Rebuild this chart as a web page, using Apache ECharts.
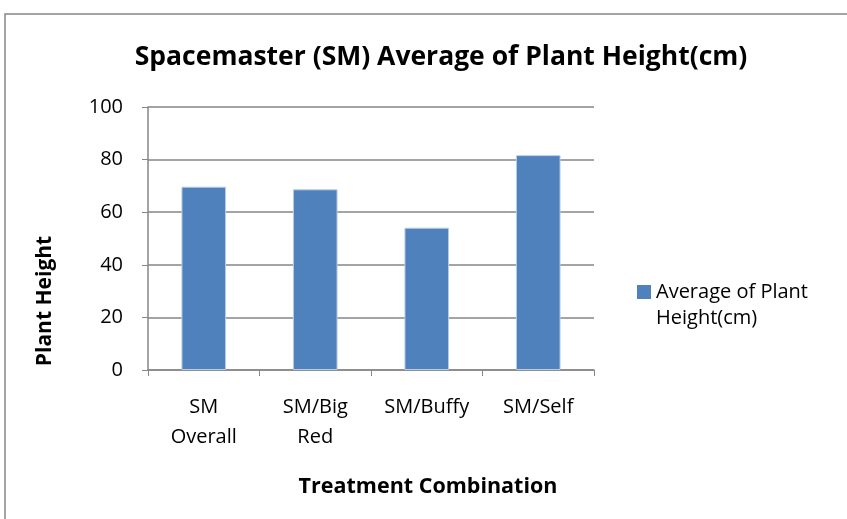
<!DOCTYPE html>
<html>
<head>
<meta charset="utf-8">
<script src="https://cdn.jsdelivr.net/npm/echarts@6/dist/echarts.min.js"></script>
<style>
  html, body { margin: 0; padding: 0; background: #fff; }
  #chart { width: 847px; height: 519px; }
</style>
</head>
<body>
<div id="chart"></div>
<script>
// chart data
var categories = ["SM\nOverall", "SM/Big\nRed", "SM/Buffy", "SM/Self"];
var heights = [69.7, 68.7, 54.1, 81.7];
var yTicks = [0, 20, 40, 60, 80, 100];
var seriesName = "Average of Plant Height(cm)";

var font = "'Open Sans', 'Noto Sans', sans-serif";
var chart = echarts.init(document.getElementById("chart"));

chart.setOption({
  animation: false,
  title: {
    text: "Spacemaster (SM) Average of Plant Height(cm)",
    left: 436,
    top: 39,
    textAlign: "center",
    textStyle: { fontFamily: font, fontSize: 26.5, fontWeight: "bold", color: "#000" }
  },
  legend: {
    data: [seriesName],
    left: 632,
    top: 273,
    icon: "rect",
    itemWidth: 14,
    itemHeight: 14,
    itemStyle: { borderWidth: 0 },
    // second line of the legend label is drawn below as a graphic text,
    // so the marker lines up with the first line like in Excel
    formatter: function () { return "Average of Plant"; },
    textStyle: { fontFamily: font, fontSize: 20, color: "#000", lineHeight: 28 }
  },
  grid: { left: 148, right: 253, top: 107, bottom: 149 },
  xAxis: {
    type: "category",
    data: categories,
    axisLine: { lineStyle: { color: "#868686", width: 1.5 } },
    axisTick: { show: true, length: 6, lineStyle: { color: "#868686" } },
    axisLabel: { fontFamily: font, fontSize: 20, color: "#000", margin: 22, lineHeight: 30 }
  },
  yAxis: {
    type: "value",
    min: yTicks[0],
    max: yTicks[yTicks.length - 1],
    interval: 20,
    axisLine: { show: true, lineStyle: { color: "#868686", width: 1.5 } },
    axisTick: { show: true, length: 6, inside: false, lineStyle: { color: "#868686" } },
    splitLine: { lineStyle: { color: "#868686", width: 1.5 } },
    axisLabel: { fontFamily: font, fontSize: 20, color: "#000", margin: 25 }
  },
  series: [{
    name: seriesName,
    type: "bar",
    data: heights,
    barWidth: "40%",
    itemStyle: { color: "#4f81bd", borderColor: "#b9cde5", borderWidth: 1 }
  }],
  graphic: [
    {
      type: "rect",
      shape: { x: 5, y: 14, width: 860, height: 520 },
      style: { fill: null, stroke: "#868686", lineWidth: 1.5 },
      silent: true
    },
    {
      type: "text",
      x: 656,
      y: 318,
      style: {
        text: "Height(cm)",
        fontFamily: font,
        fontSize: 20,
        fill: "#000",
        textAlign: "left",
        textVerticalAlign: "middle"
      }
    },
    {
      type: "text",
      x: 45,
      y: 301,
      rotation: Math.PI / 2,
      style: {
        text: "Plant Height",
        fontFamily: font,
        fontSize: 21,
        fontWeight: "bold",
        fill: "#000",
        textAlign: "center",
        textVerticalAlign: "middle"
      }
    },
    {
      type: "text",
      x: 428,
      y: 487,
      style: {
        text: "Treatment Combination",
        fontFamily: font,
        fontSize: 21.5,
        fontWeight: "bold",
        fill: "#000",
        textAlign: "center",
        textVerticalAlign: "middle"
      }
    }
  ]
});
</script>
</body>
</html>
